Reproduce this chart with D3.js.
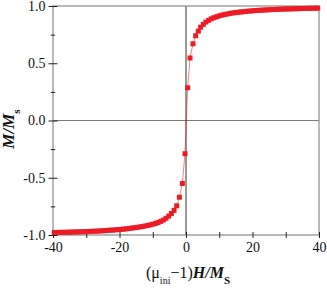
<!DOCTYPE html>
<html>
<head>
<meta charset="utf-8">
<script src="https://cdn.jsdelivr.net/npm/d3@7"></script>
<style>
  body { margin: 0; background: #fff; }
  text { font-family: "Liberation Serif", "Times New Roman", "DejaVu Serif", serif; }
</style>
</head>
<body>
<div id="chart"></div>
<script>
// Negative branch: field and magnetisation
const negH = [-39.6, -38.8, -38.0, -37.2, -36.4, -35.6, -34.8, -34.0, -33.2, -32.4,
  -31.6, -30.8, -30.0, -29.2, -28.4, -27.6, -26.8, -26.0, -25.2, -24.4,
  -23.6, -22.8, -22.0, -21.2, -20.4, -19.6, -18.8, -18.0, -17.2, -16.4,
  -15.6, -14.8, -14.0, -13.2, -12.4, -11.6, -10.8, -10.0, -9.2, -8.4,
  -7.6, -6.8, -6.0, -5.2, -4.4, -3.6, -2.8, -2.0, -1.1, -0.3];
const negM = [-0.978, -0.978, -0.977, -0.977, -0.976, -0.976, -0.975, -0.974, -0.974, -0.973,
  -0.972, -0.971, -0.970, -0.969, -0.968, -0.967, -0.966, -0.965, -0.963, -0.962,
  -0.960, -0.958, -0.957, -0.955, -0.953, -0.951, -0.949, -0.946, -0.943, -0.940,
  -0.937, -0.934, -0.930, -0.926, -0.922, -0.917, -0.912, -0.906, -0.899, -0.891,
  -0.881, -0.869, -0.854, -0.835, -0.812, -0.785, -0.745, -0.670, -0.550, -0.290];

// Positive branch
const posH = [0.5, 1.2, 2.1, 2.9, 3.7, 4.4, 5.2, 6.0, 6.8, 7.6,
  8.4, 9.2, 10.0, 10.8, 11.6, 12.4, 13.2, 14.0, 14.8, 15.6,
  16.4, 17.2, 18.0, 18.8, 19.6, 20.4, 21.2, 22.0, 22.8, 23.6,
  24.4, 25.2, 26.0, 26.8, 27.6, 28.4, 29.2, 30.0, 30.8, 31.6,
  32.4, 33.2, 34.0, 34.8, 35.6, 36.4, 37.2, 38.0, 38.8, 39.6];
const posM = [0.286, 0.546, 0.670, 0.740, 0.780, 0.815, 0.840, 0.860, 0.875, 0.888,
  0.898, 0.906, 0.914, 0.920, 0.926, 0.930, 0.935, 0.939, 0.942, 0.945,
  0.948, 0.950, 0.953, 0.955, 0.957, 0.959, 0.961, 0.962, 0.964, 0.965,
  0.966, 0.968, 0.969, 0.970, 0.971, 0.972, 0.973, 0.974, 0.974, 0.975,
  0.976, 0.976, 0.977, 0.978, 0.978, 0.979, 0.979, 0.980, 0.980, 0.981];

// Tick values
const xMajor = [-40, -20, 0, 20, 40];
const xMinor = [-30, -10, 10, 30];
const yMajor = [-1.0, -0.5, 0.0, 0.5, 1.0];
const yMinor = [-0.75, -0.25, 0.25, 0.75];

const width = 327;
const height = 288;
const red = "#ed1c24";
const frameColor = "#8a8a8a";
const serif = "'Liberation Serif', 'Times New Roman', serif";

const points = negH.map((h, i) => ({h: h, m: negM[i]}))
  .concat(posH.map((h, i) => ({h: h, m: posM[i]})));

const svg = d3.select("#chart")
  .append("svg")
  .attr("width", width)
  .attr("height", height)
  .style("background-color", "#fff");

const x = d3.scaleLinear().domain([-40, 40]).range([53, 319]);
const y = d3.scaleLinear().domain([-1, 1]).range([235, 6]);

// zero lines
svg.append("line")
  .attr("x1", x(-40)).attr("x2", x(40))
  .attr("y1", y(0)).attr("y2", y(0))
  .style("stroke", "#7a7a7a").style("stroke-width", 1);
svg.append("line")
  .attr("x1", x(0)).attr("x2", x(0))
  .attr("y1", y(-1)).attr("y2", y(1))
  .style("stroke", "#333").style("stroke-width", 1);

// frame
svg.append("rect")
  .attr("x", x(-40)).attr("y", y(1))
  .attr("width", x(40) - x(-40)).attr("height", y(-1) - y(1))
  .style("fill", "none")
  .style("stroke", frameColor)
  .style("stroke-width", 1.2);

// left axis, major + minor ticks crossing the frame
const yAxis = svg.append("g")
  .attr("transform", `translate(${x(-40)},0)`)
  .call(d3.axisLeft(y).tickValues(yMajor).tickSize(4.5).tickPadding(3)
    .tickFormat(d => d.toFixed(1)));
yAxis.selectAll(".tick line").attr("x1", 4.5).style("stroke", "#222");

const yAxisMinor = svg.append("g")
  .attr("transform", `translate(${x(-40)},0)`)
  .call(d3.axisLeft(y).tickValues(yMinor).tickSize(2.2).tickFormat(""));
yAxisMinor.selectAll(".tick line").attr("x1", 2.2).style("stroke", "#222");

// bottom axis
const xAxis = svg.append("g")
  .attr("transform", `translate(0,${y(-1)})`)
  .call(d3.axisBottom(x).tickValues(xMajor).tickSize(3).tickPadding(4)
    .tickFormat(d => String(d)));
xAxis.selectAll(".tick line").attr("y1", -3).style("stroke", "#222");

const xAxisMinor = svg.append("g")
  .attr("transform", `translate(0,${y(-1)})`)
  .call(d3.axisBottom(x).tickValues(xMinor).tickSize(3).tickFormat(""));
xAxisMinor.selectAll(".tick line").attr("y1", -3).style("stroke", "#222");

svg.selectAll(".domain").remove();
svg.selectAll("g").attr("font-family", null);
svg.selectAll(".tick text")
  .style("font-family", serif)
  .style("font-size", "14px")
  .style("fill", "#111");

// connecting line
const line = d3.line().x(d => x(d.h)).y(d => y(d.m));
svg.append("path")
  .datum(points)
  .attr("d", line)
  .style("fill", "none")
  .style("stroke", red)
  .style("stroke-opacity", 0.7)
  .style("stroke-width", 0.8);

// square markers
const ms = 5;
svg.append("g")
  .selectAll("rect")
  .data(points)
  .enter()
  .append("rect")
  .attr("x", d => x(d.h) - ms / 2)
  .attr("y", d => y(d.m) - ms / 2)
  .attr("width", ms)
  .attr("height", ms)
  .style("fill", red);

// y label: M/Ms
const yLabel = svg.append("text")
  .attr("transform", "translate(14,129) rotate(-90)")
  .attr("text-anchor", "middle")
  .style("font-family", serif)
  .style("font-size", "17px")
  .style("font-weight", "bold")
  .style("fill", "#111");
yLabel.append("tspan").style("font-style", "italic").text("M/M");
yLabel.append("tspan").attr("baseline-shift", "sub").style("font-size", "11px").text("s");

// x label: (μini−1)H/MS
const xLabel = svg.append("text")
  .attr("x", x(0) + 2)
  .attr("y", 278)
  .attr("text-anchor", "middle")
  .style("font-family", serif)
  .style("font-size", "16px")
  .style("fill", "#111");
xLabel.append("tspan").text("(μ");
xLabel.append("tspan").attr("baseline-shift", "sub").style("font-size", "10px").text("ini");
xLabel.append("tspan").text("−1)");
xLabel.append("tspan").style("font-weight", "bold").style("font-style", "italic").text("H/M");
xLabel.append("tspan").attr("baseline-shift", "sub").style("font-weight", "bold").style("font-size", "11px").text("S");
</script>
</body>
</html>
